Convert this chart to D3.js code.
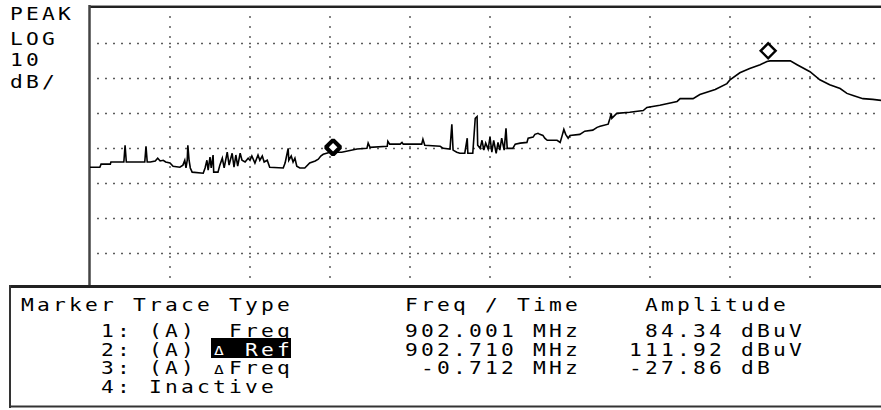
<!DOCTYPE html>
<html><head><meta charset="utf-8">
<script src="https://cdn.jsdelivr.net/npm/d3@7"></script>
<style>html,body{margin:0;padding:0;background:#fff;} svg{display:block;} text{white-space:pre;}</style>
</head><body>
<script>
// ---- data ----
const traceFreqMHz = [901.600,901.616,901.618,901.633,901.634,901.655,901.657,901.659,901.689,901.691,901.693,901.698,901.706,901.710,901.714,901.719,901.723,901.730,901.735,901.746,901.751,901.754,901.756,901.758,901.759,901.761,901.763,901.766,901.784,901.787,901.790,901.792,901.795,901.797,901.800,901.801,901.808,901.811,901.815,901.818,901.823,901.826,901.828,901.831,901.834,901.837,901.840,901.844,901.847,901.852,901.857,901.860,901.863,901.868,901.873,901.876,901.880,901.883,901.888,901.892,901.914,901.917,901.918,901.922,901.923,901.927,901.930,901.933,901.936,901.941,901.949,901.957,901.966,901.971,901.975,901.979,901.990,902.009,902.034,902.050,902.052,902.055,902.083,902.084,902.087,902.104,902.107,902.109,902.139,902.141,902.144,902.169,902.174,902.185,902.188,902.190,902.196,902.201,902.209,902.213,902.214,902.222,902.226,902.229,902.230,902.234,902.237,902.240,902.243,902.247,902.250,902.253,902.256,902.260,902.263,902.266,902.269,902.273,902.276,902.278,902.287,902.291,902.299,902.310,902.312,902.320,902.323,902.328,902.331,902.336,902.339,902.343,902.359,902.364,902.367,902.370,902.373,902.377,902.380,902.396,902.404,902.417,902.424,902.429,902.442,902.445,902.447,902.448,902.456,902.477,902.499,902.505,902.526,902.554,902.559,902.580,902.591,902.616,902.635,902.640,902.656,902.672,902.689,902.700,902.705,902.738,902.749,902.770,902.786,902.802,902.819,902.830,902.840,902.856,902.872,902.900];
const traceAmpDbuv = [81.5,81.5,82.4,82.4,83.0,83.0,87.8,83.0,83.0,87.5,83.0,83.0,83.3,84.1,83.3,83.5,83.0,82.7,81.8,81.5,82.1,83.5,81.3,83.5,87.8,83.5,81.3,80.1,79.8,81.3,83.5,80.7,84.4,81.3,85.0,80.1,80.1,82.1,84.1,81.3,85.8,82.1,83.5,85.5,81.5,85.0,81.8,85.5,83.5,83.0,84.1,83.5,84.7,82.7,85.0,83.5,84.7,83.0,83.5,81.5,81.3,82.7,83.5,86.9,83.5,84.7,83.0,84.1,81.8,81.3,81.3,82.7,83.3,83.8,84.7,85.2,85.8,85.8,86.7,86.9,88.4,87.2,87.5,88.9,88.1,88.1,88.6,88.1,88.1,89.5,87.8,87.5,86.9,86.7,93.8,86.4,85.8,85.5,85.5,89.8,85.5,85.5,95.5,96.0,87.8,86.9,89.2,86.4,88.4,86.7,90.1,85.8,89.2,85.5,88.6,86.4,89.8,86.4,92.6,86.9,86.9,88.1,88.4,88.6,89.8,90.1,90.9,91.2,90.9,90.6,89.8,89.2,89.2,88.6,90.4,92.3,90.9,89.8,90.6,90.9,91.8,92.1,92.9,93.2,93.8,95.5,96.9,95.5,96.9,97.2,97.7,98.6,99.2,100.3,101.1,101.1,102.3,103.7,105.4,106.5,108.5,109.7,110.8,111.7,111.9,111.9,110.8,108.8,106.5,105.1,104.0,102.6,102.0,101.1,100.9,100.3];

const statusLabels = ["PEAK", "LOG", "10", "dB/"];

const markerDrawFreq = [901.995, 902.702];
const markerDrawAmp = [84.34, 111.92];
const markerStroke = [4.2, 2.4];

const tableHeader = ["Marker Trace Type", "Freq / Time", "Amplitude"];
const markerIds = ["1:", "2:", "3:", "4:"];
const markerTraces = ["(A)", "(A)", "(A)", ""];
const markerDelta = ["", "\u0394", "\u0394", ""];
const markerTypes = ["Freq", "Ref", "Freq", "Inactive"];
const markerFreqText = ["902.001", "902.710", "-0.712", ""];
const markerFreqUnit = ["MHz", "MHz", "MHz", ""];
const markerAmpText = ["84.34", "111.92", "-27.86", ""];
const markerAmpUnit = ["dBuV", "dBuV", "dB", ""];

const freqStart = 901.6, freqStop = 902.9, xDivs = 10;
const refLevel = 127, dbPerDiv = 10, yDivs = 8;

// ---- drawing ----
const W = 881, H = 410;
const svg = d3.select("body").append("svg").attr("width", W).attr("height", H)
  .style("background", "#fff");

const plot = {left: 90, right: 890, top: 8, bottom: 288};
const x = d3.scaleLinear().domain([freqStart, freqStop]).range([plot.left, plot.right]);
const y = d3.scaleLinear().domain([refLevel - dbPerDiv * yDivs, refLevel]).range([plot.bottom, plot.top]);

const fontFam = "'DejaVu Sans Mono', 'Liberation Mono', monospace";
const ADV = 16, SX = 1.25, FS = 17;
function mono(g, str, px, baseline, fs) {
  const chars = [...str];
  return g.append("text")
    .attr("transform", `translate(${px},${baseline}) scale(${SX},1)`)
    .attr("x", chars.map((c, i) => (i * ADV / SX).toFixed(2)).join(" "))
    .attr("y", 0)
    .attr("font-family", fontFam)
    .attr("font-size", fs || FS)
    .attr("fill", "#000")
    .text(str);
}

// grid
const span = freqStop - freqStart;
const xGrid = d3.range(1, xDivs).map(i => freqStart + i * span / xDivs);
const yGrid = d3.range(1, yDivs).map(i => refLevel - i * dbPerDiv);
const grid = svg.append("g").attr("stroke", "#333").attr("stroke-width", 1.6);
grid.selectAll("line.h").data(yGrid).join("line")
  .attr("x1", plot.left + 7.2).attr("x2", plot.right)
  .attr("y1", d => Math.round(y(d)) + 0.5).attr("y2", d => Math.round(y(d)) + 0.5)
  .attr("stroke-dasharray", "1.6 6.4");
grid.selectAll("line.v").data(xGrid).join("line")
  .attr("x1", d => Math.round(x(d))).attr("x2", d => Math.round(x(d)))
  .attr("y1", plot.top + 8.2).attr("y2", 287)
  .attr("stroke-dasharray", "1.6 8.4");

// borders of plot
svg.append("line").attr("x1", plot.left - 1).attr("x2", W).attr("y1", 5.5).attr("y2", 5.5)
  .attr("stroke", "#999").attr("stroke-width", 1);
svg.append("line").attr("x1", plot.left - 1).attr("x2", W).attr("y1", 7).attr("y2", 7)
  .attr("stroke", "#222").attr("stroke-width", 2);
svg.append("line").attr("x1", 89.5).attr("x2", 89.5).attr("y1", 5).attr("y2", 288)
  .attr("stroke", "#444").attr("stroke-width", 2.5);

// trace
const traceData = traceFreqMHz.map((f, i) => [f, traceAmpDbuv[i]]);
svg.append("clipPath").attr("id", "clip").append("rect")
  .attr("x", plot.left).attr("y", plot.top).attr("width", plot.right - plot.left).attr("height", plot.bottom - plot.top);
svg.append("path").datum(traceData)
  .attr("clip-path", "url(#clip)")
  .attr("fill", "none").attr("stroke", "#000").attr("stroke-width", 1.6)
  .attr("stroke-linejoin", "miter")
  .attr("d", d3.line().x(d => x(d[0])).y(d => y(d[1])));

// markers (diamond drawn just above the marked point)
const mk = svg.append("g");
markerDrawFreq.forEach((f, i) => {
  const cx = x(f), cy = y(markerDrawAmp[i]) - 10, r = i === 0 ? 7.2 : 7.5;
  mk.append("path")
    .attr("d", `M${cx},${cy - r}L${cx + r},${cy}L${cx},${cy + r}L${cx - r},${cy}Z`)
    .attr("fill", "#fff").attr("stroke", "#000").attr("stroke-width", markerStroke[i])
    .attr("stroke-linejoin", i === 0 ? "bevel" : "miter");
});

// status labels
const st = svg.append("g");
const statusBase = [20, 44.5, 65.5, 87.5];
statusLabels.forEach((s, i) => mono(st, s, 10, statusBase[i]));

// marker table box
const box = svg.append("g");
box.append("rect").attr("x", 10).attr("y", 287).attr("width", 880).attr("height", 120)
  .attr("fill", "#fff").attr("stroke", "none");
box.append("line").attr("x1", 9).attr("x2", W).attr("y1", 286.5).attr("y2", 286.5)
  .attr("stroke", "#222").attr("stroke-width", 3);
box.append("line").attr("x1", 9).attr("x2", W).attr("y1", 406.5).attr("y2", 406.5)
  .attr("stroke", "#333").attr("stroke-width", 2);
box.append("line").attr("x1", 10).attr("x2", 10).attr("y1", 285).attr("y2", 408)
  .attr("stroke", "#333").attr("stroke-width", 2);

const x0 = 21;
const col = c => x0 + c * ADV;
const rowBase = [311, 337, 355.5, 374, 392.5];
const t = svg.append("g");
mono(t, tableHeader[0], col(0), rowBase[0]);
mono(t, tableHeader[1], col(24), rowBase[0]);
mono(t, tableHeader[2], col(39), rowBase[0]);

markerIds.forEach((id, i) => {
  const b = rowBase[i + 1];
  mono(t, id, col(5), b);
  if (markerTraces[i]) {
    mono(t, markerTraces[i], col(8), b);
    const typ = markerTypes[i];
    const typeCol = 17 - typ.length;
    const fill = i === 1 ? "#fff" : "#000";
    if (i === 1) {
      t.append("rect").attr("x", col(12) - 2).attr("y", b - 17.5)
        .attr("width", 5 * ADV).attr("height", 20).attr("fill", "#000");
    }
    if (markerDelta[i]) {
      mono(t, markerDelta[i], col(12) + 1, b - 0.5, 13).attr("fill", fill);
    }
    mono(t, typ, col(typeCol), b).attr("fill", fill);
  } else {
    mono(t, markerTypes[i], col(8), b);
  }
  if (markerFreqText[i]) {
    mono(t, markerFreqText[i], col(31 - markerFreqText[i].length), b);
    mono(t, markerFreqUnit[i], col(32), b);
    mono(t, markerAmpText[i], col(44 - markerAmpText[i].length), b);
    mono(t, markerAmpUnit[i], col(45), b);
  }
});
</script>
</body></html>
